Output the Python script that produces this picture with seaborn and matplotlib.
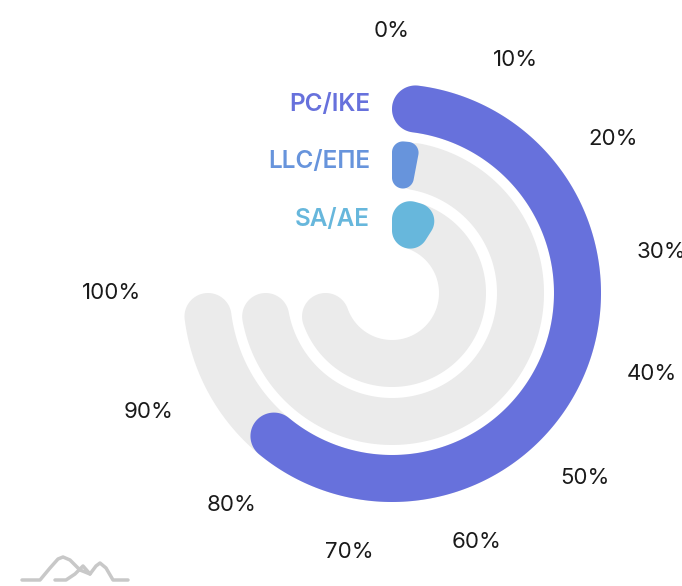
import numpy as np
import seaborn as sns
import matplotlib.pyplot as plt

sns.set_style("white")
plt.rcParams['font.family'] = ['Inter', 'DejaVu Sans']

# data
categories = ['PC/IKE', 'LLC/ΕΠΕ', 'SA/AE']
values = [84, 4, 12]          # percent
colors = ['#6771dc', '#6794dc', '#67b7dc']
tick_values = [0, 10, 20, 30, 40, 50, 60, 70, 80, 90, 100]
tick_labels = ['%d%%' % v for v in tick_values]

SPAN = np.deg2rad(270)        # full scale covers three quarters of the circle
ring_out = [209, 152, 94]
ring_w = 47


def rounded_bar(ax, frac, r_in, r_out, color, zorder):
    a0, a1 = 0.0, frac * SPAN
    h = (a1 - a0) / 2
    sh = np.sin(h) if h < np.pi / 2 else 1.0
    c = min((r_out - r_in) / 2, r_out * sh / (1 + sh),
            r_in * sh / (1 - sh) if sh < 1 else 1e9)
    ro, ri = r_out - c, r_in + c
    po0, po1 = a0 + np.arcsin(c / ro), a1 - np.arcsin(c / ro)
    pi0, pi1 = a0 + np.arcsin(c / ri), a1 - np.arcsin(c / ri)

    def pt(r, a):
        return np.array([r * np.sin(a), r * np.cos(a)])

    def corner(center, d0, d1, n=30):
        g0, g1 = np.arctan2(d0[1], d0[0]), np.arctan2(d1[1], d1[0])
        dg = (g1 - g0 + np.pi) % (2 * np.pi) - np.pi
        g = g0 + dg * np.linspace(0, 1, n)
        return [center + c * np.array([np.cos(t), np.sin(t)]) for t in g]

    pts = []
    for a in np.linspace(po0, po1, 200):
        pts.append(pt(r_out, a))
    ce = pt(ro, po1)
    pts += corner(ce, np.array([np.sin(po1), np.cos(po1)]),
                  np.array([np.cos(a1), -np.sin(a1)]))
    ce = pt(ri, pi1)
    pts += corner(ce, np.array([np.cos(a1), -np.sin(a1)]),
                  -np.array([np.sin(pi1), np.cos(pi1)]))
    for a in np.linspace(pi1, pi0, 200):
        pts.append(pt(r_in, a))
    ce = pt(ri, pi0)
    pts += corner(ce, -np.array([np.sin(pi0), np.cos(pi0)]),
                  np.array([-np.cos(a0), np.sin(a0)]))
    ce = pt(ro, po0)
    pts += corner(ce, np.array([-np.cos(a0), np.sin(a0)]),
                  np.array([np.sin(po0), np.cos(po0)]))
    pts = np.array(pts)
    th = np.unwrap(np.arctan2(pts[:, 0], pts[:, 1]))
    rr = np.hypot(pts[:, 0], pts[:, 1])
    ax.fill(th, rr, color=color, lw=0, zorder=zorder)


fig = plt.figure(figsize=(6.82, 5.86), dpi=100)
ax = fig.add_axes([182 / 682, 83 / 586, 420 / 682, 420 / 586], projection='polar')
ax.set_theta_zero_location('N')
ax.set_theta_direction(-1)
ax.set_ylim(0, 210)
ax.axis('off')

for cat, val, col, ro in zip(categories, values, colors, ring_out):
    rounded_bar(ax, 1.0, ro - ring_w, ro, '#ebebeb', 1)
    rounded_bar(ax, val / 100, ro - ring_w, ro, col, 2)
    ax.annotate(cat, xy=(0, ro - ring_w / 2), xytext=(-22, 3),
                textcoords='offset pixels', ha='right', va='center',
                fontsize=17.5, fontweight='semibold', color=col,
                annotation_clip=False)

# axis labels: the box edge sits on a circle around the chart
for v, lab in zip(tick_values, tick_labels):
    a = v / 100 * SPAN
    hw, hh = 7 * len(lab), 10
    ax.annotate(lab, xy=(a, 252), xytext=(hw * np.sin(a), hh * np.cos(a)),
                textcoords='offset pixels', ha='center', va='center',
                fontsize=16, color='#1a1a1a', annotation_clip=False)

# small logo, bottom left
lax = fig.add_axes([0, 0, 1, 1], zorder=-1)
lax.set_xlim(0, 682)
lax.set_ylim(586, 0)
lax.axis('off')
lax.plot([22, 40, 50, 58, 63, 70, 80, 90, 96, 100, 106, 113, 128],
         [580, 580, 568, 559, 557, 560, 570, 574, 566, 563, 568, 580, 580],
         color='#c8c8c8', lw=2.5, solid_capstyle='round')
lax.plot([55, 66, 75, 83, 90], [580, 580, 574, 566, 574],
         color='#c8c8c8', lw=2.5)

fig.savefig('out.png', dpi=100)
